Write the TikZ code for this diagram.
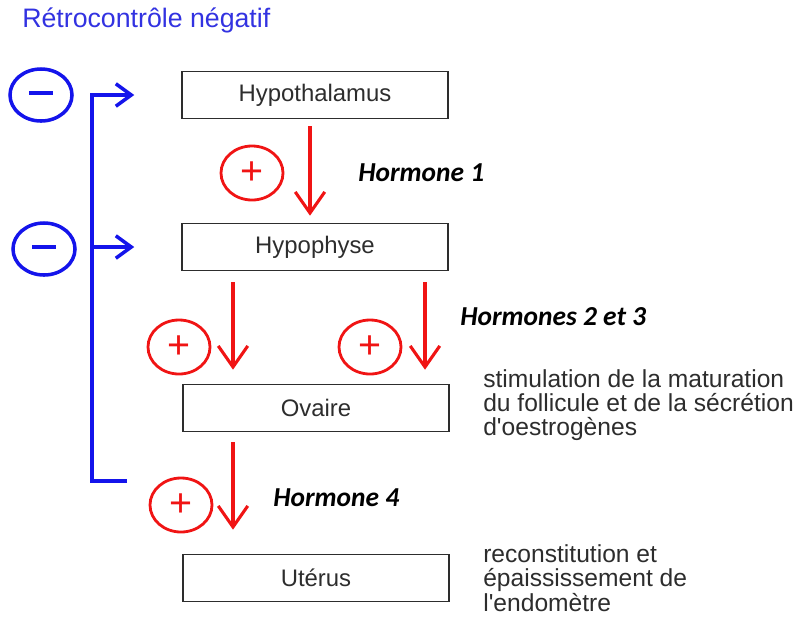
\documentclass[tikz,border=0pt]{standalone}
\usepackage{fontspec}
\setmainfont{Liberation Sans}
\newfontfamily\hormfont{Carlito}
\usetikzlibrary{arrows.meta,shapes.geometric,calc}

\definecolor{fbblue}{RGB}{20,20,235}
\definecolor{titleblue}{RGB}{50,50,225}
\definecolor{plusred}{RGB}{240,20,20}
\definecolor{boxgray}{RGB}{45,45,45}

\begin{document}
\begin{tikzpicture}[x=0.025cm,y=-0.025cm,
  organ/.style={draw=boxgray,line width=1pt,minimum width=6.65cm,minimum height=1.18cm,text=boxgray,font=\fontsize{17}{20}\selectfont},
  plusmark/.style={ellipse,draw=plusred,line width=2pt,minimum width=1.55cm,minimum height=1.35cm,inner sep=0pt,text=plusred,font=\fontsize{28}{28}\selectfont},
  minusmark/.style={ellipse,draw=fbblue,line width=2.5pt,minimum width=1.55cm,minimum height=1.3cm,inner sep=0pt},
  hormarrow/.style={plusred,line width=2.2pt,-{Straight Barb[length=15pt,width=21pt]}},
  fbline/.style={fbblue,line width=2.5pt},
  fbarrow/.style={-{Straight Barb[length=11pt,width=16pt]}},
  hormlabel/.style={anchor=west,inner sep=0pt,font=\hormfont\bfseries\itshape\fontsize{19.5}{22}\selectfont},
  effect/.style={anchor=west,align=left,inner sep=0pt,text=boxgray,font=\fontsize{17.5}{17.3}\selectfont}]
\useasboundingbox (0,0) rectangle (807,621);

\node[anchor=west,inner sep=0pt,text=titleblue,font=\fontsize{19}{22}\selectfont] (title) at (22,20) {Rétrocontrôle négatif};

\node[organ] (hypothalamus) at (315,95) {Hypothalamus};
\node[organ] (hypophyse) at (315,247) {Hypophyse};
\node[organ] (ovaire) at (316,408) {Ovaire};
\node[organ] (uterus) at (316,578) {Utérus};

\draw[hormarrow] ($(hypothalamus.south)+(-5,7)$) -- ($(hypophyse.north)+(-5,-7)$);
\draw[hormarrow] ($(hypophyse.south)+(-82,11)$) -- ($(ovaire.north)+(-83,-14)$);
\draw[hormarrow] ($(hypophyse.south)+(110,11)$) -- ($(ovaire.north)+(109,-14)$);
\draw[hormarrow] ($(ovaire.south)+(-83,10)$) -- ($(uterus.north)+(-83,-24)$);

\node[plusmark] (plus1) at (252,173) {+};
\node[plusmark] (plus2) at (179,347) {+};
\node[plusmark] (plus3) at (370,347) {+};
\node[plusmark] (plus4) at (181,505) {+};

\node[hormlabel] (h1) at (358,173) {Hormone 1};
\node[hormlabel] (h23) at (460,317) {Hormones 2 et 3};
\node[hormlabel] (h4) at (273,498) {Hormone 4};

\node[effect] (effovaire) at (483,405) {stimulation de la maturation\\du follicule et de la sécrétion\\d\textquotesingle oestrogènes};
\node[effect] (effuterus) at (483,578) {reconstitution et\\épaississement de\\l\textquotesingle endomètre};

\node[minusmark] (minus1) at (41,95) {\color{fbblue}\rule[0.6ex]{0.58cm}{1mm}};
\node[minusmark] (minus2) at (44,249) {\color{fbblue}\rule[0.6ex]{0.58cm}{1mm}};

\coordinate (fbtop) at (92,95);
\coordinate (fbbot) at (92,481);
\coordinate (fbend) at (127,481);
\draw[fbline,fbarrow] (fbend) -- (fbbot) -- (fbtop) -- ($(hypothalamus.west)+(-47,0)$);
\draw[fbline,fbarrow] (fbtop |- hypophyse.west) -- ($(hypophyse.west)+(-47,0)$);
\end{tikzpicture}
\end{document}
